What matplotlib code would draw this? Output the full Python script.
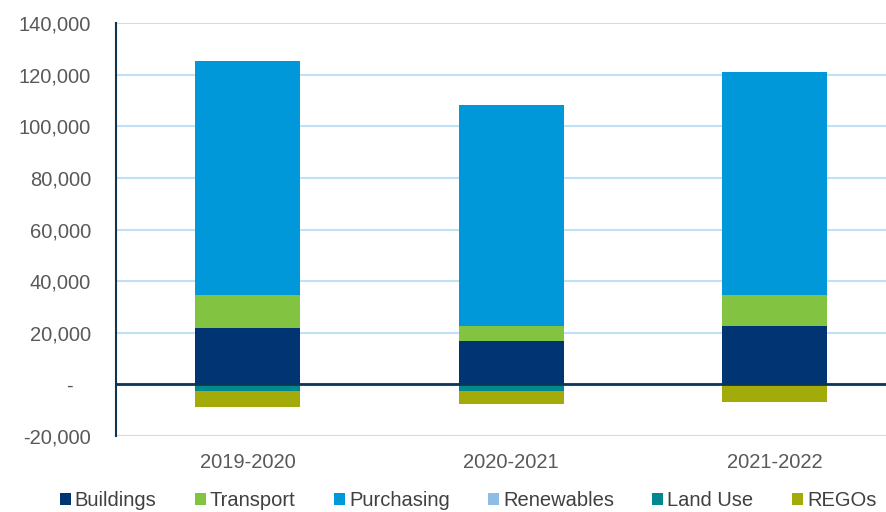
import numpy as np
import matplotlib.pyplot as plt
from matplotlib.ticker import FuncFormatter

plt.rcParams['font.family'] = ['Liberation Sans', 'DejaVu Sans']

years = ['2019-2020', '2020-2021', '2021-2022']
buildings = np.array([21700, 16700, 22600])
transport = np.array([12800, 5900, 11900])
purchasing = np.array([90700, 85500, 86400])
renewables = np.array([0, 0, 0])
land_use = np.array([-2700, -2700, -400])
regos = np.array([-6200, -5000, -6600])

names = ['Buildings', 'Transport', 'Purchasing', 'Renewables', 'Land Use', 'REGOs']
colors = ['#003473', '#82c341', '#0098d8', '#8fbce6', '#00878f', '#a3ab0b']

fig = plt.figure(figsize=(8.87, 5.12), dpi=100)
ax = fig.add_axes([116 / 887, (512 - 436) / 512, (887 - 116) / 887, (436 - 23) / 512])

x = np.arange(len(years))
w = 0.4

# positives stack upward, negatives stack downward
pos_bottom = np.zeros(len(years))
for vals, name, c in zip([buildings, transport, purchasing, renewables], names[:4], colors[:4]):
    ax.bar(x, vals, w, bottom=pos_bottom, color=c, label=name, zorder=3)
    pos_bottom = pos_bottom + vals
neg_bottom = np.zeros(len(years))
for vals, name, c in zip([land_use, regos], names[4:], colors[4:]):
    ax.bar(x, vals, w, bottom=neg_bottom, color=c, label=name, zorder=3)
    neg_bottom = neg_bottom + vals

ax.set_xlim(-0.5, 2.426)
ax.set_ylim(-20000, 140000)
ax.set_yticks(np.arange(-20000, 140001, 20000))
ax.yaxis.set_major_formatter(FuncFormatter(lambda v, p: '-   ' if v == 0 else '{:,.0f}'.format(v)))
ax.set_xticks(x)
ax.set_xticklabels(years)

ax.grid(axis='y', color='#bfe0f7', lw=1.5, zorder=0)
ax.axhline(0, color='#0d3556', lw=2, zorder=4)
for s in ['top', 'right', 'bottom']:
    ax.spines[s].set_visible(False)
ax.spines['left'].set_color('#0d3556')
ax.spines['left'].set_linewidth(1.5)
ax.tick_params(axis='both', length=0, labelsize=14.5, labelcolor='#595959')
ax.tick_params(axis='y', pad=18)
ax.tick_params(axis='x', pad=12)

leg = ax.legend(loc='center', bbox_to_anchor=(468 / 887, 11 / 512), bbox_transform=fig.transFigure,
                ncol=6, frameon=False, fontsize=14.5, handlelength=0.55, handleheight=0.55,
                handletextpad=0.2, columnspacing=1.9, borderaxespad=0)
for t in leg.get_texts():
    t.set_color('#404040')

fig.savefig('out.png', dpi=100)
